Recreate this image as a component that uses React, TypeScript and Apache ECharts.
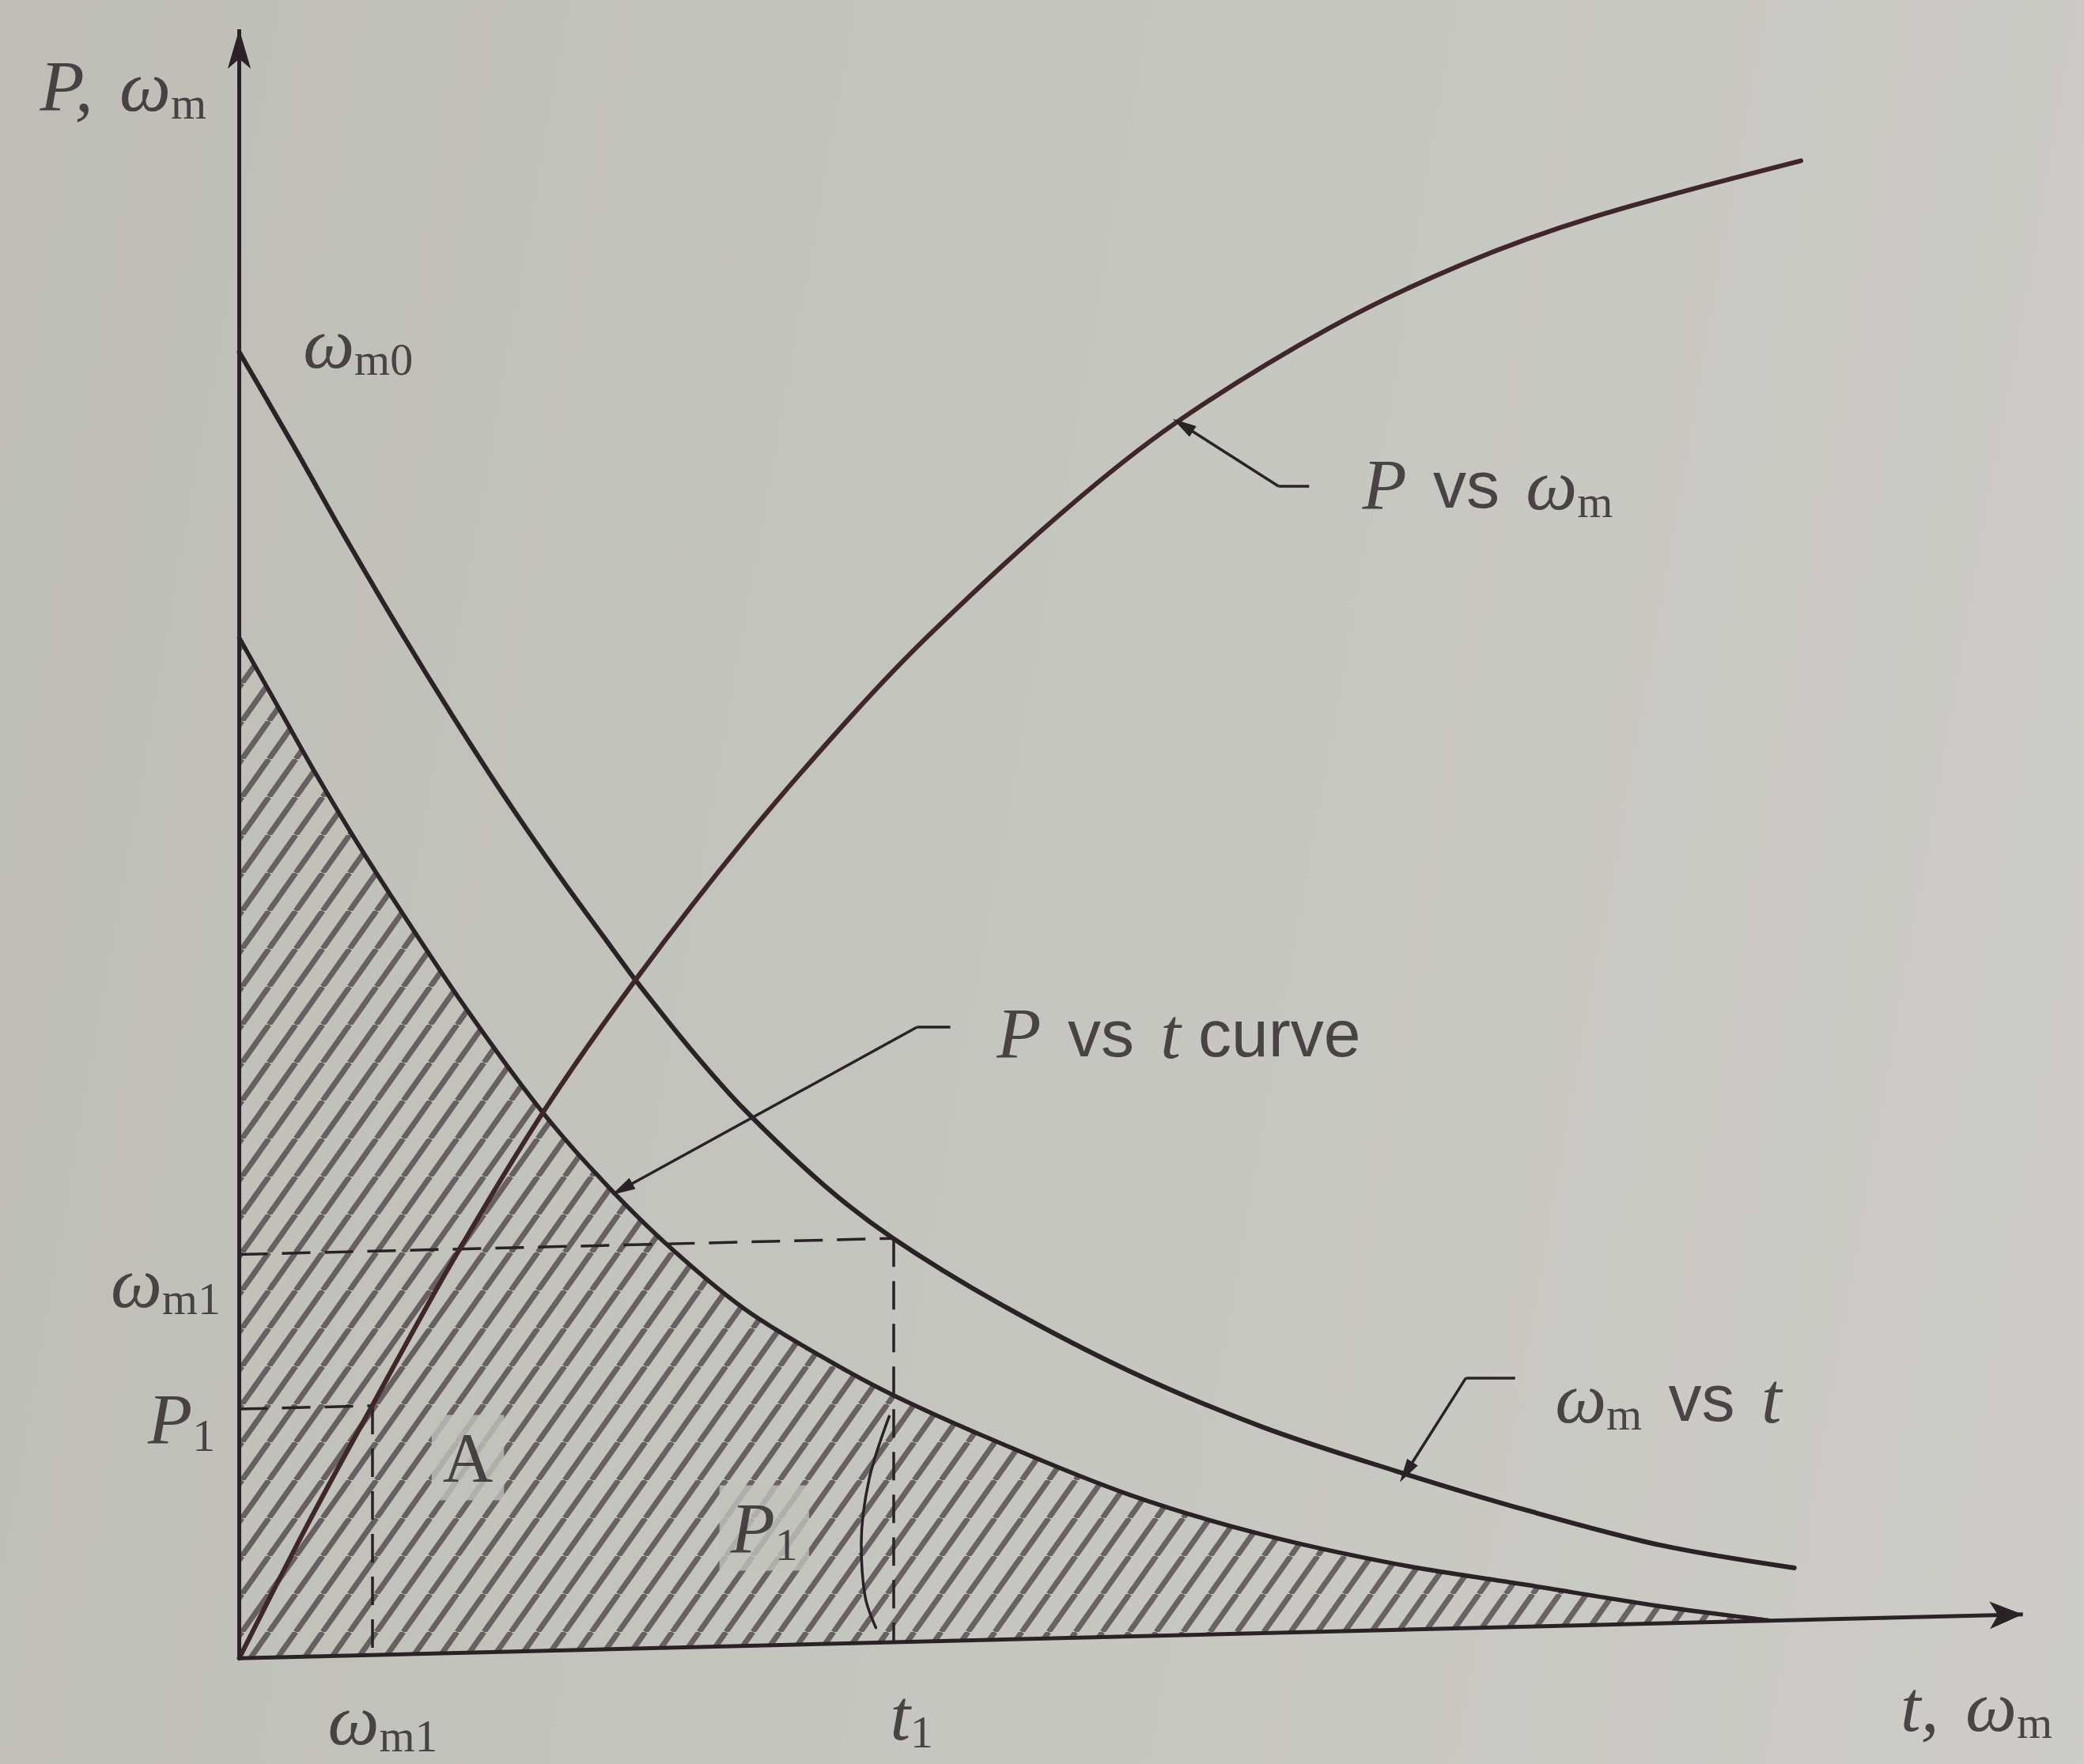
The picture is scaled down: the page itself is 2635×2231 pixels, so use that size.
import React, { useEffect, useRef } from 'react';
import * as echarts from 'echarts';

const W = 2635;
const H = 2231;

// ω_m vs t : speed falling away with time
const speedTime = [0, 4, 8, 12, 16, 20, 24, 28, 30, 34, 38, 44, 49.2, 57, 67, 77, 87, 97, 107, 117];
const speedValue = [98.3, 91.4, 84.3, 77.5, 71.0, 64.8, 59.0, 53.5, 50.8, 45.8, 41.3, 35.6, 31.6, 26.8, 21.6, 17.4, 14.1, 11.1, 8.5, 6.8];

// P vs t : power against time, the hatched area under it
const powerTime = [0, 3.2, 5.8, 8.8, 12, 17, 22.5, 27, 32, 38, 44, 49.2, 57, 67, 77, 87, 97, 107, 115];
const powerValue = [76.8, 71.1, 66.5, 61.5, 56.5, 49.0, 41.5, 36.3, 31.3, 26.3, 22.6, 19.8, 16.3, 12.3, 9.3, 7.1, 5.5, 3.9, 2.85];

// P vs ω_m : power characteristic against speed
const curveSpeed = [0, 5, 10, 16, 23, 30, 38, 46, 52, 62, 70.5, 82, 92, 102, 117.5];
const curvePower = [0, 9.8, 19.0, 29.8, 41.3, 51.3, 61.6, 70.85, 77.1, 86.3, 93.0, 100.1, 104.9, 108.5, 112.7];

// marked operating point
const t1 = 49.2;
const omegaAtT1 = 31.6;
const omegaM1 = 10;
const p1 = 19.0;

// the horizontal axis on the page runs slightly uphill to its arrow
const axisEnd = [134.2, 3.3];
const axisTop = 122.6;

// edge of the thin strip drawn at t1
const stripT = [48.9, 47.4, 46.8, 47.1, 47.9];
const stripP = [18.2, 13.5, 8.6, 4.6, 2.3];

const X_MIN = -18;
const X_MAX = 138.8;
const Y_MIN = -7.96;
const Y_MAX = 124.8;
const SMOOTH = 0.33;

const slope = axisEnd[1] / axisEnd[0];
const baseAt = (x: number) => x * slope;

const INK = '#2a2226';
const INK_RED = '#3e2629';
const SERIF = '"Liberation Serif", "DejaVu Serif", serif';
const SANS = '"Liberation Sans", Arial, sans-serif';
const PAPER = '#c2c2bc';

// leader lines: short horizontal stub at the label, then a slanted run ending in an arrow
const leaders = [
  { stub: [[80.5, 88.2], [78.2, 88.2]], tip: [71.0, 92.8] },
  { stub: [[53.5, 47.5], [51.0, 47.5]], tip: [28.8, 35.3] },
  { stub: [[96.0, 21.1], [92.3, 21.1]], tip: [87.8, 14.0] },
];

type Note = { text: string; x: number; y: number; align: 'left' | 'right' | 'center'; knockout?: boolean };
const notes: Note[] = [
  { text: '{it|P,}{sp| }{it|ω}{sub|m}', x: -15.0, y: 118.3, align: 'left' },
  { text: '{it|ω}{sub|m0}', x: 4.8, y: 99.0, align: 'left' },
  { text: '{it|P}{sp| }{rm|vs}{sp| }{it|ω}{sub|m}', x: 84.5, y: 88.3, align: 'left' },
  { text: '{it|P}{sp| }{rm|vs}{sp| }{it|t}{sp2| }{rm|curve}', x: 57.0, y: 47.0, align: 'left' },
  { text: '{it|ω}{sub|m}{sp| }{rm|vs}{sp| }{it|t}', x: 99.0, y: 19.6, align: 'left' },
  { text: '{it|ω}{sub|m1}', x: -1.4, y: 28.3, align: 'right' },
  { text: '{it|P}{sub|1}', x: -1.8, y: 18.0, align: 'right' },
  { text: '{up|A}', x: 17.2, y: 15.1, align: 'center', knockout: true },
  { text: '{it|P}{sub|1}', x: 39.5, y: 9.8, align: 'center', knockout: true },
  { text: '{it|t}{sub|1}', x: 50.6, y: -4.3, align: 'center' },
  { text: '{it|ω}{sub|m1}', x: 10.8, y: -4.6, align: 'center' },
  { text: '{it|t,}{sp| }{it|ω}{sub|m}', x: 125.0, y: -3.6, align: 'left' },
];

// cubic path through pixel points, same control-point rule as a smoothed line series
function smoothPath(pts: number[][], smooth: number) {
  const n = pts.length;
  const cpIn: number[][] = [];
  const cpOut: number[][] = [];
  for (let i = 0; i < n; i++) {
    const p = pts[i];
    const prev = pts[i - 1] || p;
    const next = pts[i + 1] || p;
    const vx = next[0] - prev[0];
    const vy = next[1] - prev[1];
    const lp = Math.hypot(p[0] - prev[0], p[1] - prev[1]);
    const ln = Math.hypot(next[0] - p[0], next[1] - p[1]);
    const r = lp + ln > 0 ? ln / (lp + ln) : 0.5;
    cpIn.push([p[0] - vx * smooth * (1 - r), p[1] - vy * smooth * (1 - r)]);
    cpOut.push([p[0] + vx * smooth * r, p[1] + vy * smooth * r]);
  }
  let d = `M${pts[0][0]},${pts[0][1]}`;
  for (let i = 1; i < n; i++) {
    d += ` C${cpOut[i - 1][0]},${cpOut[i - 1][1]} ${cpIn[i][0]},${cpIn[i][1]} ${pts[i][0]},${pts[i][1]}`;
  }
  return d;
}

function hatchTile() {
  const w = 34;
  const h = 48;
  const c = document.createElement('canvas');
  c.width = w;
  c.height = h;
  const g = c.getContext('2d')!;
  g.strokeStyle = 'rgba(60,48,54,0.68)';
  g.lineWidth = 7;
  for (const dx of [-w, 0, w]) {
    g.beginPath();
    g.moveTo(dx, h);
    g.lineTo(dx + w, 0);
    g.stroke();
  }
  return { image: c, repeat: 'repeat', imageWidth: w, imageHeight: h };
}

const rich = {
  it: { fontFamily: SERIF, fontStyle: 'italic', fontSize: 92, lineHeight: 100, color: INK },
  rm: { fontFamily: SANS, fontSize: 84, lineHeight: 100, color: INK },
  up: { fontFamily: SERIF, fontSize: 88, lineHeight: 100, color: INK },
  sub: { fontFamily: SERIF, fontSize: 58, lineHeight: 44, verticalAlign: 'bottom', color: INK },
  sp: { fontFamily: SANS, fontSize: 120, lineHeight: 100, color: INK },
  sp2: { fontFamily: SANS, fontSize: 80, lineHeight: 100, color: INK },
};

function buildOption() {
  const hatch = hatchTile();

  const curve = (name: string, xs: number[], ys: number[], color: string, width: number) => ({
    type: 'line',
    name,
    data: xs.map((x, i) => [x, ys[i]]),
    showSymbol: false,
    smooth: SMOOTH,
    lineStyle: { color, width, cap: 'round' },
    z: 4,
    silent: true,
  });

  const dashed = [
    [[0, omegaAtT1 - baseAt(t1)], [t1, omegaAtT1]],
    [[t1, omegaAtT1], [t1, baseAt(t1)]],
    [[0, p1 - baseAt(omegaM1)], [omegaM1, p1]],
    [[omegaM1, p1], [omegaM1, baseAt(omegaM1)]],
  ];

  // P vs t drawn as one path so the hatched fill and its outline share an edge
  const powerPath = (api: any) => {
    const pts = powerTime.map((t, i) => api.coord([t, powerValue[i]]));
    return smoothPath(pts, SMOOTH);
  };
  const last = powerTime[powerTime.length - 1];

  return {
    animation: false,
    backgroundColor: 'transparent',
    grid: { left: 0, right: 0, top: 0, bottom: 0 },
    xAxis: { type: 'value', min: X_MIN, max: X_MAX, show: false },
    yAxis: { type: 'value', min: Y_MIN, max: Y_MAX, show: false },
    series: [
      {
        type: 'custom',
        name: 'energy',
        coordinateSystem: 'cartesian2d',
        data: [[0, 0]],
        clip: false,
        silent: true,
        z: 1,
        renderItem: (_params: any, api: any) => {
          const b1 = api.coord([last, baseAt(last)]);
          const b0 = api.coord([0, 0]);
          return {
            type: 'path',
            shape: { pathData: `${powerPath(api)} L${b1[0]},${b1[1]} L${b0[0]},${b0[1]} Z` },
            style: { fill: hatch, stroke: null },
          };
        },
      },
      {
        type: 'custom',
        name: 'P vs t',
        coordinateSystem: 'cartesian2d',
        data: [[0, 0]],
        clip: false,
        silent: true,
        z: 4,
        renderItem: (_params: any, api: any) => ({
          type: 'path',
          shape: { pathData: powerPath(api) },
          style: { fill: null, stroke: INK, lineWidth: 5.5, lineCap: 'round' },
        }),
      },
      curve('ω_m vs t', speedTime, speedValue, INK, 6),
      curve('P vs ω_m', curveSpeed, curvePower, INK_RED, 6),
      curve('strip', stripT, stripP, INK, 3.5),
      // axes
      {
        type: 'lines',
        coordinateSystem: 'cartesian2d',
        symbol: ['none', 'arrow'],
        symbolSize: [[1, 1], [26, 42]],
        lineStyle: { color: INK, width: 5, opacity: 1 },
        data: [{ coords: [[0, 0], axisEnd] }],
        z: 5,
        silent: true,
      },
      {
        type: 'lines',
        coordinateSystem: 'cartesian2d',
        symbol: ['none', 'arrow'],
        symbolSize: [[1, 1], [22, 50]],
        lineStyle: { color: INK, width: 5, opacity: 1 },
        data: [{ coords: [[0, 0], [0, axisTop]] }],
        z: 5,
        silent: true,
      },
      // dashed projections of the operating point
      {
        type: 'lines',
        coordinateSystem: 'cartesian2d',
        symbol: 'none',
        lineStyle: { color: INK, width: 3.5, opacity: 1, type: [36, 18] },
        data: dashed.map((c) => ({ coords: c })),
        z: 4,
        silent: true,
      },
      // leader stubs
      {
        type: 'lines',
        coordinateSystem: 'cartesian2d',
        symbol: 'none',
        lineStyle: { color: INK, width: 3.5, opacity: 1 },
        data: leaders.map((l) => ({ coords: l.stub })),
        z: 5,
        silent: true,
      },
      // leader arrows
      {
        type: 'lines',
        coordinateSystem: 'cartesian2d',
        symbol: ['none', 'triangle'],
        symbolSize: [[1, 1], [16, 30]],
        lineStyle: { color: INK, width: 3.5, opacity: 1 },
        data: leaders.map((l) => ({ coords: [l.stub[1], l.tip] })),
        z: 5,
        silent: true,
      },
      // labels
      {
        type: 'scatter',
        symbolSize: 1,
        itemStyle: { color: 'rgba(0,0,0,0)' },
        clip: false,
        z: 10,
        silent: true,
        label: {
          show: true,
          position: 'inside',
          color: INK,
          fontFamily: SANS,
          fontSize: 84,
          lineHeight: 100,
          textBorderWidth: 0,
          rich,
        },
        data: notes.map((n) => ({
          value: [n.x, n.y],
          label: {
            formatter: () => n.text,
            align: n.align,
            verticalAlign: 'middle',
            backgroundColor: n.knockout ? PAPER : 'transparent',
            padding: n.knockout ? [4, 14] : 0,
          },
        })),
      },
    ],
  };
}

export default function App() {
  const ref = useRef<HTMLDivElement>(null);
  useEffect(() => {
    const el = ref.current;
    if (!el) return;
    const chart = echarts.init(el, undefined, { renderer: 'svg', width: W, height: H });
    chart.setOption(buildOption() as any);
    return () => chart.dispose();
  }, []);
  return (
    <div
      ref={ref}
      style={{
        position: 'fixed',
        left: 0,
        top: 0,
        width: W,
        height: H,
        background: 'linear-gradient(100deg, #bebeb7 0%, #c5c5bf 45%, #cdccc8 100%)',
      }}
    />
  );
}
